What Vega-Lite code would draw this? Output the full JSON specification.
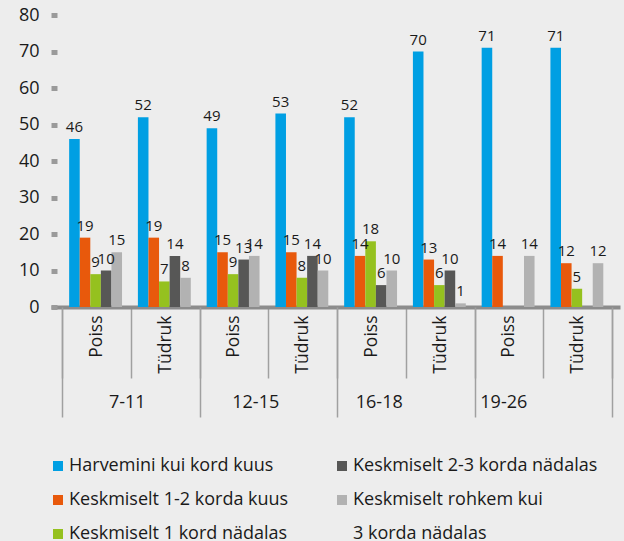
{
  "$schema": "https://vega.github.io/schema/vega-lite/v6.json",
  "width": 569,
  "height": 292,
  "autosize": {"type": "none"},
  "padding": {"left": 51, "top": 15, "right": 4, "bottom": 234},
  "background": "#EDEDED",
  "config": {"view": {"stroke": null}, "font": "Open Sans"},
  "datasets": {
    "bars": [
      {"grp": "7-11 Poiss", "cat": "Harvemini kui kord kuus", "v": 46},
      {"grp": "7-11 Poiss", "cat": "Keskmiselt 1-2 korda kuus", "v": 19},
      {"grp": "7-11 Poiss", "cat": "Keskmiselt 1 kord nädalas", "v": 9},
      {"grp": "7-11 Poiss", "cat": "Keskmiselt 2-3 korda nädalas", "v": 10},
      {"grp": "7-11 Poiss", "cat": "Keskmiselt rohkem kui 3 korda nädalas", "v": 15},
      {"grp": "7-11 Tüdruk", "cat": "Harvemini kui kord kuus", "v": 52},
      {"grp": "7-11 Tüdruk", "cat": "Keskmiselt 1-2 korda kuus", "v": 19},
      {"grp": "7-11 Tüdruk", "cat": "Keskmiselt 1 kord nädalas", "v": 7},
      {"grp": "7-11 Tüdruk", "cat": "Keskmiselt 2-3 korda nädalas", "v": 14},
      {"grp": "7-11 Tüdruk", "cat": "Keskmiselt rohkem kui 3 korda nädalas", "v": 8},
      {"grp": "12-15 Poiss", "cat": "Harvemini kui kord kuus", "v": 49},
      {"grp": "12-15 Poiss", "cat": "Keskmiselt 1-2 korda kuus", "v": 15},
      {"grp": "12-15 Poiss", "cat": "Keskmiselt 1 kord nädalas", "v": 9},
      {"grp": "12-15 Poiss", "cat": "Keskmiselt 2-3 korda nädalas", "v": 13},
      {"grp": "12-15 Poiss", "cat": "Keskmiselt rohkem kui 3 korda nädalas", "v": 14},
      {"grp": "12-15 Tüdruk", "cat": "Harvemini kui kord kuus", "v": 53},
      {"grp": "12-15 Tüdruk", "cat": "Keskmiselt 1-2 korda kuus", "v": 15},
      {"grp": "12-15 Tüdruk", "cat": "Keskmiselt 1 kord nädalas", "v": 8},
      {"grp": "12-15 Tüdruk", "cat": "Keskmiselt 2-3 korda nädalas", "v": 14},
      {"grp": "12-15 Tüdruk", "cat": "Keskmiselt rohkem kui 3 korda nädalas", "v": 10},
      {"grp": "16-18 Poiss", "cat": "Harvemini kui kord kuus", "v": 52},
      {"grp": "16-18 Poiss", "cat": "Keskmiselt 1-2 korda kuus", "v": 14},
      {"grp": "16-18 Poiss", "cat": "Keskmiselt 1 kord nädalas", "v": 18},
      {"grp": "16-18 Poiss", "cat": "Keskmiselt 2-3 korda nädalas", "v": 6},
      {"grp": "16-18 Poiss", "cat": "Keskmiselt rohkem kui 3 korda nädalas", "v": 10},
      {"grp": "16-18 Tüdruk", "cat": "Harvemini kui kord kuus", "v": 70},
      {"grp": "16-18 Tüdruk", "cat": "Keskmiselt 1-2 korda kuus", "v": 13},
      {"grp": "16-18 Tüdruk", "cat": "Keskmiselt 1 kord nädalas", "v": 6},
      {"grp": "16-18 Tüdruk", "cat": "Keskmiselt 2-3 korda nädalas", "v": 10},
      {"grp": "16-18 Tüdruk", "cat": "Keskmiselt rohkem kui 3 korda nädalas", "v": 1},
      {"grp": "19-26 Poiss", "cat": "Harvemini kui kord kuus", "v": 71},
      {"grp": "19-26 Poiss", "cat": "Keskmiselt 1-2 korda kuus", "v": 14},
      {"grp": "19-26 Poiss", "cat": "Keskmiselt rohkem kui 3 korda nädalas", "v": 14},
      {"grp": "19-26 Tüdruk", "cat": "Harvemini kui kord kuus", "v": 71},
      {"grp": "19-26 Tüdruk", "cat": "Keskmiselt 1-2 korda kuus", "v": 12},
      {"grp": "19-26 Tüdruk", "cat": "Keskmiselt 1 kord nädalas", "v": 5},
      {"grp": "19-26 Tüdruk", "cat": "Keskmiselt rohkem kui 3 korda nädalas", "v": 12}
    ],
    "ages": [
      {"age": "7-11"}, {"age": "12-15"}, {"age": "16-18"}, {"age": "19-26"}
    ]
  },
  "layer": [
    {
      "data": {"name": "bars"},
      "encoding": {
        "x": {
          "field": "grp",
          "type": "nominal",
          "scale": {
            "domain": ["7-11 Poiss", "7-11 Tüdruk", "12-15 Poiss", "12-15 Tüdruk", "16-18 Poiss", "16-18 Tüdruk", "19-26 Poiss", "19-26 Tüdruk"],
            "paddingInner": 0,
            "paddingOuter": 0.138,
            "align": 0.58
          },
          "axis": {
            "title": null,
            "orient": "bottom",
            "labelExpr": "split(datum.value, ' ')[1]",
            "labelAngle": -90,
            "labelFontSize": 17.5,
            "labelColor": "#1a1a1a",
            "labelPadding": -63,
            "tickBand": "extent",
            "tickSize": 71,
            "tickColor": "#a0a0a0",
            "tickWidth": 1.5,
            "domainColor": "#8c8c8c",
            "domainWidth": 4,
            "grid": false
          }
        },
        "xOffset": {
          "field": "cat",
          "type": "nominal",
          "scale": {
            "domain": ["Harvemini kui kord kuus", "Keskmiselt 1-2 korda kuus", "Keskmiselt 1 kord nädalas", "Keskmiselt 2-3 korda nädalas", "Keskmiselt rohkem kui 3 korda nädalas"],
            "paddingInner": 0,
            "paddingOuter": 0.75,
            "align": 0.45
          }
        },
        "y": {
          "field": "v",
          "type": "quantitative",
          "scale": {"domain": [0, 80], "nice": false},
          "axis": {
            "title": null,
            "values": [0, 10, 20, 30, 40, 50, 60, 70, 80],
            "grid": false,
            "domain": false,
            "offset": -6,
            "tickSize": 6,
            "tickWidth": 5,
            "tickColor": "#9a9a9a",
            "labelPadding": 12,
            "labelFontSize": 18,
            "labelColor": "#1a1a1a"
          }
        }
      },
      "layer": [
        {
          "mark": {"type": "bar"},
          "encoding": {
            "color": {
              "field": "cat",
              "type": "nominal",
              "scale": {
                "domain": ["Harvemini kui kord kuus", "Keskmiselt 1-2 korda kuus", "Keskmiselt 1 kord nädalas", "Keskmiselt 2-3 korda nädalas", "Keskmiselt rohkem kui 3 korda nädalas", "3 korda nädalas"],
                "range": ["#009FE3", "#E8590C", "#95C11F", "#575756", "#B2B2B2", "#EDEDED"]
              },
              "legend": {
                "title": null,
                "orient": "none",
                "legendX": -2,
                "legendY": 442,
                "columns": 2,
                "direction": "vertical",
                "columnPadding": 44,
                "rowPadding": 16,
                "symbolType": "square",
                "symbolSize": 100,
                "symbolStrokeWidth": 0,
                "labelFontSize": 18,
                "labelColor": "#1a1a1a",
                "labelOffset": 2,
                "labelLimit": 400,
                "labelExpr": "datum.label == 'Keskmiselt rohkem kui 3 korda nädalas' ? 'Keskmiselt rohkem kui' : datum.label"
              }
            }
          }
        },
        {
          "mark": {"type": "text", "baseline": "bottom", "dy": -4, "fontSize": 15, "color": "#1a1a1a"},
          "encoding": {"text": {"field": "v", "type": "quantitative"}}
        }
      ]
    },
    {
      "data": {"name": "ages"},
      "mark": {"type": "rule", "opacity": 0},
      "encoding": {
        "x": {
          "field": "age",
          "type": "nominal",
          "scale": {
            "domain": ["7-11", "12-15", "16-18", "19-26"],
            "paddingInner": 0,
            "paddingOuter": 0.069,
            "align": 0.58
          },
          "axis": {
            "title": null,
            "orient": "bottom",
            "labelAngle": 0,
            "labelFontSize": 18,
            "labelColor": "#1a1a1a",
            "labelBaseline": "top",
            "labelPadding": -24,
            "labelOffset": {
              "condition": [
                {"test": "datum.value == '7-11'", "value": -4},
                {"test": "datum.value == '12-15'", "value": -13},
                {"test": "datum.value == '16-18'", "value": -27}
              ],
              "value": -40
            },
            "tickBand": "extent",
            "tickSize": 110,
            "tickColor": "#a0a0a0",
            "tickWidth": 1.5,
            "domain": false,
            "grid": false
          }
        }
      }
    }
  ],
  "resolve": {"scale": {"x": "independent"}, "axis": {"x": "independent"}}
}
